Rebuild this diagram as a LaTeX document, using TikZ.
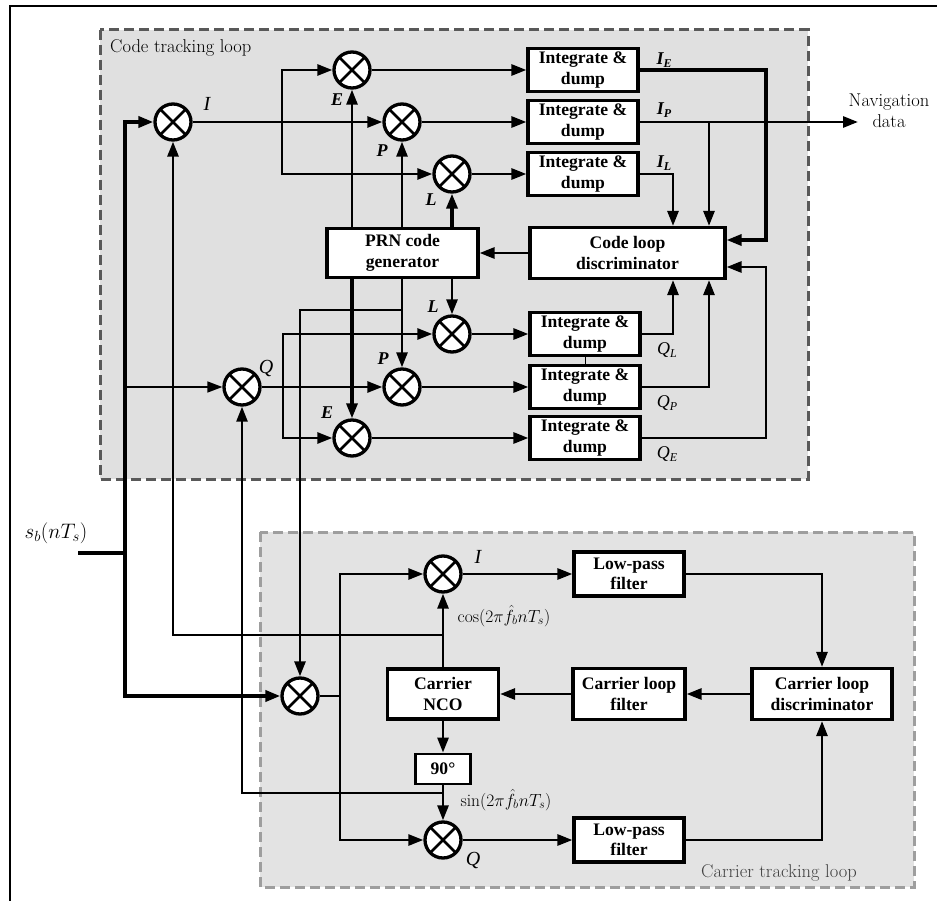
\RequirePackage{fix-cm}
\documentclass[tikz,border=0pt]{standalone}
\usepackage{fontspec}
\usetikzlibrary{arrows.meta}
\newfontfamily\tnr{Liberation Serif}
\newcommand{\lsub}[1]{\raisebox{-0.35ex}{\fontsize{12}{12}\selectfont #1}}

\tikzset{
  blk/.style={draw, line width=3.2pt, fill=white, align=center, inner sep=0pt,
    font=\tnr\bfseries\fontsize{17.6}{20.5}\selectfont},
  idbox/.style={blk, minimum width=110pt, minimum height=43pt},
  mix/.style={circle, draw, line width=3.3pt, fill=white, minimum size=36pt, inner sep=0pt,
    path picture={\draw[line width=2.8pt]
      (path picture bounding box.north west) -- (path picture bounding box.south east)
      (path picture bounding box.south west) -- (path picture bounding box.north east);}},
  tip/.style={-{Triangle[length=15pt,width=11pt]}},
  conn/.style={line width=2.7pt},
  arr/.style={conn, tip},
  busln/.style={line width=3.6pt},
  busarr/.style={busln, tip},
  midarr/.style={line width=2.2pt, tip},
  thinarr/.style={line width=1.5pt, tip},
  lbl/.style={inner sep=0pt, font=\tnr\itshape\fontsize{20}{22}\selectfont},
  lblb/.style={inner sep=0pt, font=\tnr\bfseries\itshape\fontsize{18}{20}\selectfont},
  lblq/.style={inner sep=0pt, font=\tnr\itshape\fontsize{18}{20}\selectfont},
  codearea/.style={draw=black!65, fill=black!12, line width=3pt, dash pattern=on 10pt off 5pt},
  cararea/.style={draw=black!38, fill=black!11, line width=3pt, dash pattern=on 10pt off 5pt},
  title/.style={inner sep=0pt, font=\fontsize{18.5}{21}\selectfont},
  mathlbl/.style={inner sep=0pt, font=\fontsize{17.5}{20}\selectfont},
}

\begin{document}
\begin{tikzpicture}[x=1pt, y=-1pt]
\useasboundingbox (0,0) rectangle (937,901);
\fill[white] (0,0) rectangle (937,901);

% outer frame
\draw[line width=2pt] (10,901) -- (10,6) -- (937,6);

% loop areas
\draw[codearea] (100,30) rectangle (808,479);
\draw[cararea] (260,532) rectangle (914,887);
\node[title, anchor=base west] (codeTitle) at (110,53) {Code tracking loop};
\node[title, anchor=base west, text=black!75] (carTitle) at (701,877) {Carrier tracking loop};

% ---------- code tracking loop ----------
\node[mix] (mI)  at (173,122) {};
\node[mix] (mEt) at (352,70) {};
\node[mix] (mPt) at (402,122) {};
\node[mix] (mLt) at (452,174) {};
\node[mix] (mQ)  at (242,387) {};
\node[mix] (mLb) at (452,334) {};
\node[mix] (mPb) at (402,387) {};
\node[mix] (mEb) at (352,438) {};

\node[idbox] (IE) at (583,70)  {Integrate \&\\dump};
\node[idbox] (IP) at (583,122) {Integrate \&\\dump};
\node[idbox] (IL) at (583,174) {Integrate \&\\dump};
\node[idbox] (QL) at (585,334) {Integrate \&\\dump};
\node[idbox] (QP) at (585,387) {Integrate \&\\dump};
\node[idbox] (QE) at (585,438) {Integrate \&\\dump};

\node[blk, minimum width=151pt, minimum height=49pt] (PRN) at (402.5,253) {PRN code\\generator};
\node[blk, minimum width=195pt, minimum height=51pt] (CD) at (627.5,253) {Code loop\\discriminator};

% ---------- carrier tracking loop ----------
\node[mix] (mW)  at (300,696) {};
\node[mix] (mIc) at (443,574) {};
\node[mix] (mQc) at (443,840) {};

\node[blk, minimum width=111pt, minimum height=50pt] (NCO) at (443,694) {Carrier\\NCO};
\node[blk, minimum width=112pt, minimum height=51pt] (CLF) at (629,694) {Carrier loop\\filter};
\node[blk, minimum width=140pt, minimum height=51pt] (CLD) at (822,694) {Carrier loop\\discriminator};
\node[blk, minimum width=110pt, minimum height=44pt] (LPF1) at (629,574) {Low-pass\\filter};
\node[blk, minimum width=110pt, minimum height=44pt] (LPF2) at (629,840) {Low-pass\\filter};
\node[blk, line width=2.8pt, minimum width=55pt, minimum height=30pt] (PH) at (443,769) {90°};

% ---------- input bus ----------
\coordinate (sIn) at (78,553);
\coordinate (bus) at (125,553);
\coordinate (qIn) at (125,387);
\draw[busln] (sIn) -- (bus);
\draw[busarr] (bus) |- (mI);
\draw[busarr] (bus) |- (mW);
\draw[thinarr] (qIn) -- (mQ);

% ---------- in-phase arm ----------
\coordinate (jI) at (282,122);
\draw[arr] (mI) -- (mPt);
\draw[arr] (jI) |- (mEt);
\draw[arr] (jI) |- (mLt);
\draw[arr] (mEt) -- (IE);
\draw[arr] (mPt) -- (IP);
\draw[arr] (mLt) -- (IL);

% ---------- code replicas ----------
\draw[arr] (PRN.north -| mEt) -- (mEt);
\draw[arr] (PRN.north -| mPt) -- (mPt);
\draw[arr, line width=3.4pt] (PRN.north -| mLt) -- (mLt);
\draw[arr, line width=3.2pt] (PRN.south -| mEb) -- (mEb);
\draw[arr] (PRN.south -| mPb) -- (mPb);
\draw[arr] (PRN.south -| mLb) -- (mLb);
\coordinate (jP) at (402,310);
\draw[arr] (jP) -| (mW);
\draw[arr] (CD) -- (PRN);

% ---------- quadrature arm ----------
\coordinate (jQ) at (283,387);
\draw[arr] (mQ) -- (mPb);
\draw[arr] (jQ) |- (mLb);
\draw[arr] (jQ) |- (mEb);
\draw[arr] (mLb) -- (QL);
\draw[arr] (mPb) -- (QP);
\draw[arr] (mEb) -- (QE);
\draw[line width=1pt] (QL) -- (QP);

% ---------- correlator outputs to the discriminator ----------
\coordinate (ieR) at (766,240);
\coordinate (navOut) at (858,122);
\coordinate (ipB) at (709,122);
\coordinate (ilC) at (673,174);
\coordinate (qlC) at (673,334);
\coordinate (qpC) at (709,387);
\coordinate (qeR) at (766,267);
\draw[arr, line width=3.2pt] (IE) -| (ieR) -- (ieR -| CD.east);
\draw[arr] (IP) -- (navOut);
\draw[arr] (ipB) -- (ipB |- CD.north);
\draw[arr] (IL) -- (ilC) -- (ilC |- CD.north);
\draw[arr] (QL) -- (qlC) -- (qlC |- CD.south);
\draw[arr] (QP) -- (qpC) -- (qpC |- CD.south);
\draw[arr] (QE) -| (qeR) -- (qeR -| CD.east);

% ---------- carrier replicas ----------
\coordinate (jc) at (443,635);
\coordinate (js) at (443,793);
\draw[arr] (NCO) -- (mIc);
\draw[midarr, line width=2.8pt] (jc) -| (mI);
\draw[arr] (NCO) -- (PH);
\draw[arr] (PH) -- (mQc);
\draw[midarr, line width=2.4pt] (js) -| (mQ);

% ---------- carrier loop ----------
\coordinate (jW) at (340,696);
\draw[conn] (mW) -- (jW);
\draw[arr] (jW) |- (mIc);
\draw[arr] (jW) |- (mQc);
\draw[arr] (mIc) -- (LPF1);
\draw[arr] (mQc) -- (LPF2);
\draw[arr] (LPF1) -| (CLD);
\draw[arr] (LPF2) -| (CLD);
\draw[arr] (CLD) -- (CLF);
\draw[arr] (CLF) -- (NCO);

% ---------- labels ----------
\node[lbl]  (tI)  at (207,104) {I};
\node[lblb] (tEt) at (337,100) {E};
\node[lblb] (tPt) at (382,151) {P};
\node[lblb] (tLt) at (431,200) {L};
\node[lblb] (tLb) at (433,307) {L};
\node[lblb] (tPb) at (383,359) {P};
\node[lblb] (tEb) at (327,413) {E};
\node[lbl]  (tQ)  at (266,368) {Q};
\node[lblb] (tIE) at (664,60)  {I\lsub{E}};
\node[lblb] (tIP) at (664,110) {I\lsub{P}};
\node[lblb] (tIL) at (664,163) {I\lsub{L}};
\node[lblq] (tQL) at (667,350) {Q\lsub{L}};
\node[lblq] (tQP) at (667,403) {Q\lsub{P}};
\node[lblq] (tQE) at (667,454) {Q\lsub{E}};
\node[lbl]  (tIc) at (478,557) {I};
\node[lbl]  (tQc) at (473,860) {Q};
\node[mathlbl] (tcos) at (504,616) {$\cos(2\pi\hat{f}_b nT_s)$};
\node[mathlbl] (tsin) at (506,800) {$\sin(2\pi\hat{f}_b nT_s)$};
\node[inner sep=0pt, font=\fontsize{21}{24}\selectfont] (tsb) at (56,533) {$s_b(nT_s)$};
\node[title, align=center] (tnav) at (889,111) {Navigation\\data};
\end{tikzpicture}
\end{document}
